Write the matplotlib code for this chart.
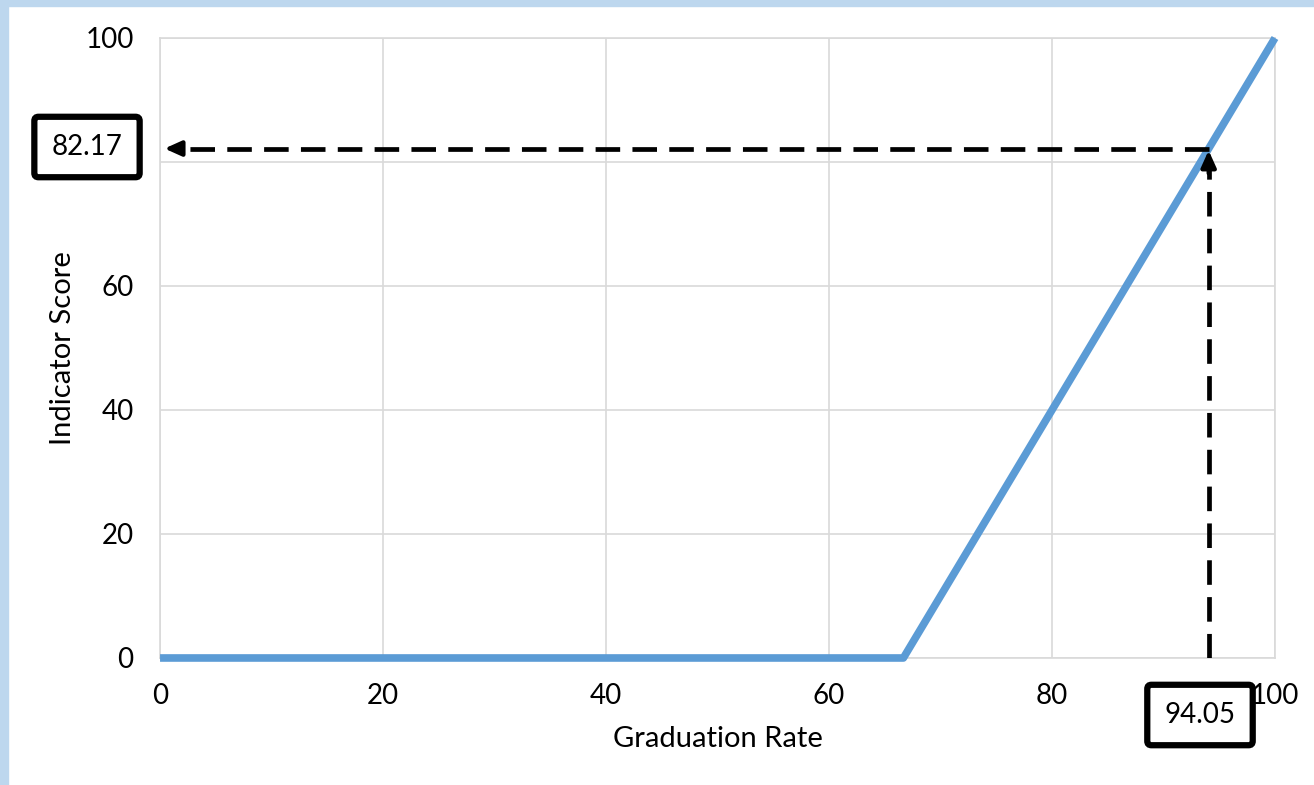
import matplotlib
matplotlib.use('Agg')
import matplotlib.pyplot as plt
from matplotlib.patches import Rectangle

# scoring curve
grad_rate = [0, 66.67, 100]
score = [0, 0, 100]

# the example point
rate_value = 94.05
score_value = 82.17

x_ticks = [0, 20, 40, 60, 80, 100]
y_ticks = [0, 20, 40, 60, 80, 100]
# the 80 label sits under the value box in the original, so it is not shown
y_labels = ['0', '20', '40', '60', '', '100']

plt.rcParams['font.family'] = ['Lato', 'DejaVu Sans']

fig = plt.figure(figsize=(13.14, 7.85), dpi=100)
ax = fig.add_axes([0.1218, 0.1618, 0.8485, 0.7898])

# light blue frame strips (top and left)
fig.patches.append(Rectangle((0, 1 - 6 / 785), 1, 6 / 785, transform=fig.transFigure,
                             color='#BDD7EE', zorder=0))
fig.patches.append(Rectangle((0, 0), 8 / 1314, 1, transform=fig.transFigure,
                             color='#BDD7EE', zorder=0))

ax.plot(grad_rate, score, color='#5B9BD5', lw=5.5, solid_capstyle='butt', zorder=3,
        clip_on=False)

ax.set_xlim(0, 100)
ax.set_ylim(0, 100)
ax.set_xticks(x_ticks)
ax.set_yticks(y_ticks, y_labels)
ax.tick_params(length=0, labelsize=20)
ax.tick_params(axis='y', pad=19)
ax.tick_params(axis='x', pad=18)
ax.grid(True, color='#D9D9D9', lw=1.2)
for s in ax.spines.values():
    s.set_color('#D9D9D9')
    s.set_linewidth(1.2)
ax.set_xlabel('Graduation Rate', fontsize=21, labelpad=12)
ax.set_ylabel('Indicator Score', fontsize=21, labelpad=7)

# dashed guide lines
dash = (0, (5.2, 2.6))
ax.plot([rate_value, 1.5], [score_value, score_value], color='black', lw=3.4, ls=dash,
        dash_capstyle='butt', zorder=4)
ax.plot([rate_value, rate_value], [0, score_value - 3], color='black', lw=3.4, ls=dash,
        dash_capstyle='butt', zorder=4)

# arrow heads
head = dict(arrowstyle='-|>,head_length=1.0,head_width=0.45', color='black', lw=3,
            shrinkA=0, shrinkB=0)
ax.annotate('', xy=(0.4, score_value), xytext=(2.0, score_value), arrowprops=head,
            zorder=4)
ax.annotate('', xy=(rate_value, score_value - 0.3), xytext=(rate_value, score_value - 4),
            arrowprops=head, zorder=4)

box = dict(boxstyle='round,pad=0.62,rounding_size=0.15', fc='white', ec='black', lw=4.5)
fig.text(87 / 1314, 1 - 147 / 785, f'{score_value:.2f}', fontsize=20, ha='center',
         va='center', bbox=box)
fig.text(1200 / 1314, 1 - 715 / 785, f'{rate_value:.2f}', fontsize=20, ha='center',
         va='center', bbox=box, zorder=5)

fig.savefig('out.png', dpi=100)
